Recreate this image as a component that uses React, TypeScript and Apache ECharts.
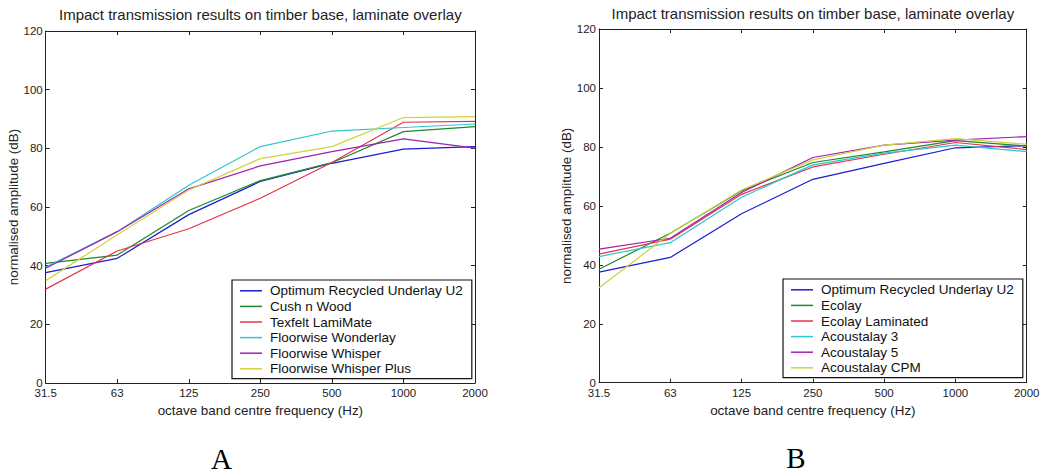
import React, { useEffect, useRef } from "react";
import * as echarts from "echarts";

const frequencies = ["31.5", "63", "125", "250", "500", "1000", "2000"];
const yTicks = { min: 0, max: 120, interval: 20 };

const chartTitle = "Impact transmission results on timber base, laminate overlay";
const xAxisName = "octave band centre frequency (Hz)";
const yAxisName = "normalised amplitude (dB)";
const panelLabels = ["A", "B"];

// Panel A
const namesA = [
  "Optimum Recycled Underlay U2",
  "Cush n Wood",
  "Texfelt LamiMate",
  "Floorwise Wonderlay",
  "Floorwise Whisper",
  "Floorwise Whisper Plus",
];
const optimumA = [37.6, 42.5, 57.4, 68.7, 74.9, 79.7, 80.6];
const cushNWood = [40.8, 43.6, 58.8, 69.0, 75.1, 85.7, 87.4];
const texfelt = [32.0, 45.0, 52.6, 63.0, 75.2, 88.9, 89.2];
const wonderlay = [39.5, 51.6, 67.4, 80.6, 85.9, 87.1, 88.3];
const whisper = [39.1, 51.6, 66.2, 74.0, 78.9, 83.2, 80.1];
const whisperPlus = [34.9, 50.5, 65.8, 76.5, 80.6, 90.5, 90.8];

// Panel B
const namesB = [
  "Optimum Recycled Underlay U2",
  "Ecolay",
  "Ecolay Laminated",
  "Acoustalay 3",
  "Acoustalay 5",
  "Acoustalay CPM",
];
const optimumB = [37.5, 42.5, 57.3, 69.0, 74.4, 79.7, 80.4];
const ecolay = [38.5, 50.7, 65.1, 74.7, 78.3, 82.1, 80.3];
const ecolayLaminated = [43.6, 48.7, 63.9, 73.2, 77.5, 81.5, 79.1];
const acoustalay3 = [42.8, 47.5, 62.9, 73.9, 77.9, 80.6, 78.4];
const acoustalay5 = [45.3, 49.0, 64.5, 76.4, 80.6, 82.3, 83.5];
const acoustalayCPM = [32.2, 50.6, 65.4, 75.6, 80.6, 82.8, 80.9];

const seriesA = [optimumA, cushNWood, texfelt, wonderlay, whisper, whisperPlus];
const seriesB = [optimumB, ecolay, ecolayLaminated, acoustalay3, acoustalay5, acoustalayCPM];

const colors = ["#1c1cd2", "#1a8a2a", "#e6344a", "#2cc6d0", "#a020b0", "#d2d23a"];

const FONT = "'Liberation Sans', Arial, Helvetica, sans-serif";

export default function App() {
  const ref = useRef<HTMLDivElement>(null);

  useEffect(() => {
    if (!ref.current) return;
    const chart = echarts.init(ref.current, undefined, { renderer: "svg" });

    const grids = [
      { left: 45.7, top: 31, width: 429.3, height: 352 },
      { left: 599, top: 29, width: 427.7, height: 353.7 },
    ];

    const axisLineStyle = { color: "#222", width: 1 };

    const xAxes: any[] = [];
    const yAxes: any[] = [];
    grids.forEach((_, gi) => {
      xAxes.push({
        type: "category",
        gridIndex: gi,
        position: "bottom",
        data: frequencies,
        boundaryGap: false,
        axisLine: { show: true, onZero: false, lineStyle: axisLineStyle },
        axisTick: { show: true, inside: true, length: 4, interval: 0, lineStyle: axisLineStyle },
        axisLabel: { show: true, interval: 0, fontSize: 11.5, margin: 4, color: "#222", fontFamily: FONT },
        splitLine: { show: false },
        name: xAxisName,
        nameLocation: "middle",
        nameGap: 19,
        nameTextStyle: { fontSize: 13.4, color: "#222", fontFamily: FONT },
      });
      xAxes.push({
        type: "category",
        gridIndex: gi,
        position: "top",
        data: frequencies,
        boundaryGap: false,
        axisLine: { show: true, onZero: false, lineStyle: axisLineStyle },
        axisTick: { show: true, inside: true, length: 4, interval: 0, lineStyle: axisLineStyle },
        axisLabel: { show: false },
        splitLine: { show: false },
      });
      yAxes.push({
        type: "value",
        gridIndex: gi,
        position: "left",
        min: yTicks.min,
        max: yTicks.max,
        interval: yTicks.interval,
        axisLine: { show: true, onZero: false, lineStyle: axisLineStyle },
        axisTick: { show: true, inside: true, length: 4, lineStyle: axisLineStyle },
        axisLabel: { show: true, fontSize: 11.5, margin: 3, color: "#222", fontFamily: FONT },
        splitLine: { show: false },
        name: yAxisName,
        nameLocation: "middle",
        nameGap: 23,
        nameRotate: 90,
        nameTextStyle: { fontSize: 13.4, color: "#222", fontFamily: FONT },
      });
      yAxes.push({
        type: "value",
        gridIndex: gi,
        position: "right",
        min: yTicks.min,
        max: yTicks.max,
        interval: yTicks.interval,
        axisLine: { show: true, onZero: false, lineStyle: axisLineStyle },
        axisTick: { show: true, inside: true, length: 4, lineStyle: axisLineStyle },
        axisLabel: { show: false },
        splitLine: { show: false },
      });
    });

    const makeSeries = (names: string[], data: number[][], gi: number) =>
      names.map((name, i) => ({
        type: "line",
        name,
        xAxisIndex: gi * 2,
        yAxisIndex: gi * 2,
        data: data[i],
        symbol: "none",
        lineStyle: { width: 1.2, color: colors[i] },
        itemStyle: { color: colors[i] },
        emphasis: { disabled: true },
      }));

    const legendCommon = {
      orient: "vertical",
      icon: "rect",
      itemWidth: 22,
      itemHeight: 1.5,
      itemGap: 0,
      selectedMode: false,
      backgroundColor: "#fff",
      borderColor: "#111",
      borderWidth: 1.2,
      borderRadius: 0,
      padding: [3, 9, 2, 8],
      textStyle: {
        fontSize: 13.5,
        lineHeight: 15.6,
        color: "#111",
        fontFamily: FONT,
        padding: [0, 0, 0, 3],
      },
    };

    chart.setOption({
      animation: false,
      backgroundColor: "#fff",
      color: colors,
      title: [
        {
          text: chartTitle,
          left: 260.3,
          top: 7,
          textAlign: "center",
          padding: 0,
          textStyle: { fontSize: 15, fontWeight: "normal", color: "#222", fontFamily: FONT },
        },
        {
          text: chartTitle,
          left: 812.8,
          top: 5.5,
          textAlign: "center",
          padding: 0,
          textStyle: { fontSize: 15, fontWeight: "normal", color: "#222", fontFamily: FONT },
        },
      ],
      grid: grids.map((g) => ({ ...g, containLabel: false, show: false })),
      xAxis: xAxes,
      yAxis: yAxes,
      legend: [
        { ...legendCommon, left: 232, top: 280, data: namesA },
        { ...legendCommon, left: 783, top: 279, data: namesB },
      ],
      graphic: [
        {
          type: "text",
          x: 221.5,
          y: 459,
          style: {
            text: panelLabels[0],
            fontSize: 29,
            fontFamily: "'Liberation Serif', 'Times New Roman', serif",
            fill: "#000",
            align: "center",
            verticalAlign: "middle",
          },
        },
        {
          type: "text",
          x: 796,
          y: 458,
          style: {
            text: panelLabels[1],
            fontSize: 29,
            fontFamily: "'Liberation Serif', 'Times New Roman', serif",
            fill: "#000",
            align: "center",
            verticalAlign: "middle",
          },
        },
      ],
      series: [...makeSeries(namesA, seriesA, 0), ...makeSeries(namesB, seriesB, 1)],
    });

    return () => {
      chart.dispose();
    };
  }, []);

  return (
    <div
      ref={ref}
      style={{ position: "fixed", left: 0, top: 0, width: 1045, height: 474, background: "#fff" }}
    />
  );
}
